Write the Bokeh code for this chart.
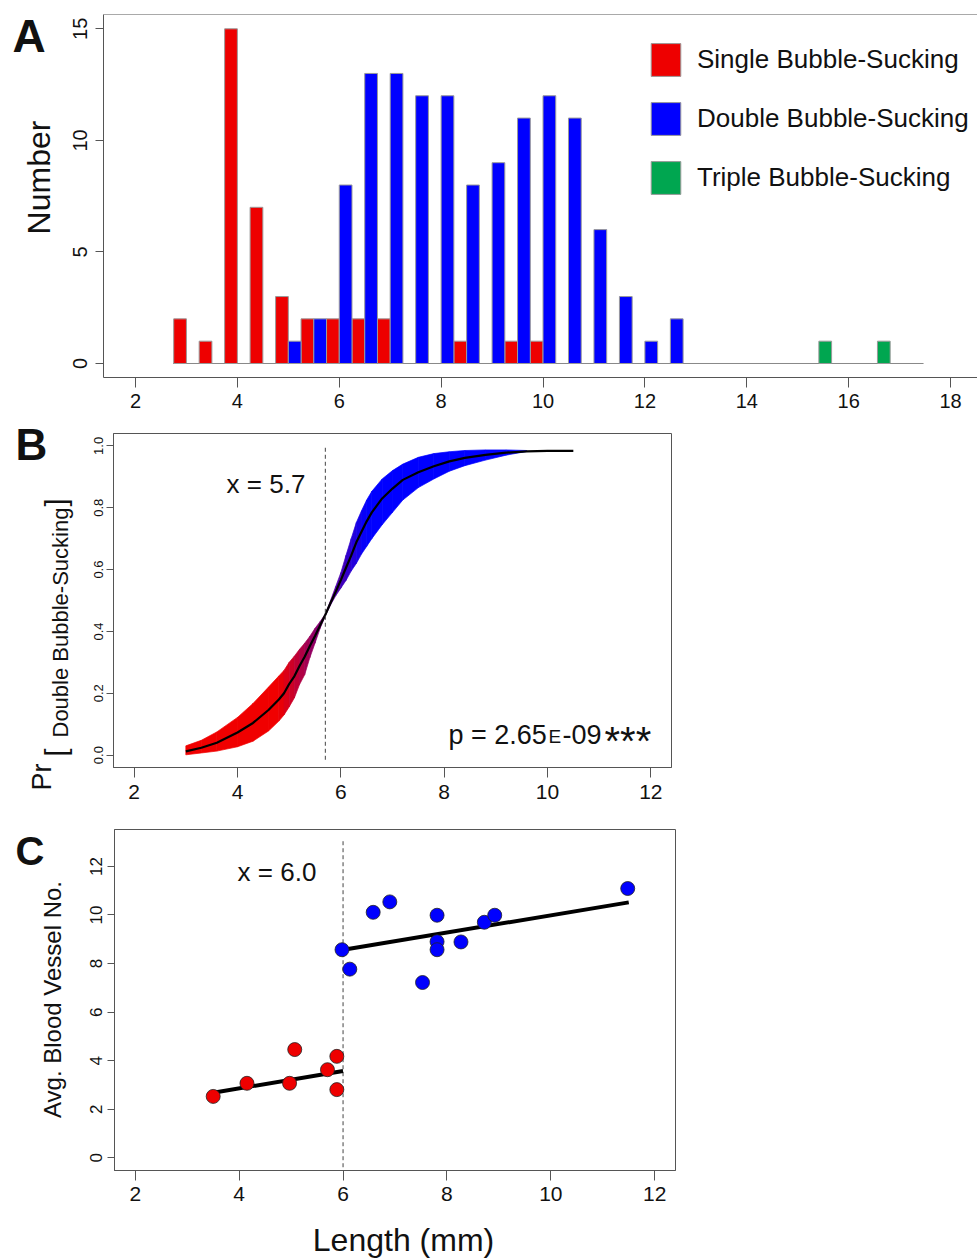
import numpy as np
from bokeh.plotting import figure
from bokeh.models import Label, Legend, LegendItem, FixedTicker, PrintfTickFormatter, Span, Range1d
from bokeh.embed import file_html
from bokeh.resources import INLINE

# ---------------- data ----------------
# Panel A: histogram of length classes (0.5 mm bins), counts per behaviour
bin_left = [2.75, 3.25, 3.75, 4.25, 4.75, 5.25, 5.75, 6.25, 6.75, 7.25,
            7.75, 8.25, 8.75, 9.25, 9.75, 10.25, 10.75, 11.25, 11.75, 12.25]
single_counts = [2, 1, 15, 7, 3, 2, 2, 2, 2, 0, 0, 1, 0, 1, 1, 0, 0, 0, 0, 0]
double_counts = [0, 0, 0, 0, 1, 2, 8, 13, 13, 12, 12, 8, 9, 11, 12, 11, 6, 3, 1, 2]
triple_centers = [15.54, 16.69]
triple_counts = [1, 1]
baseline_span = [2.74, 17.47]
legend_labels = ["Single Bubble-Sucking", "Double Bubble-Sucking", "Triple Bubble-Sucking"]
xticks_A = [2, 4, 6, 8, 10, 12, 14, 16, 18]
yticks_A = [0, 5, 10, 15]

# Panel B: logistic fit with confidence band
prob_x = [3.0, 3.3, 3.6, 4.0, 4.3, 4.6, 4.8, 4.9, 5.0, 5.1, 5.2, 5.3, 5.4, 5.5, 5.6,
          5.7, 5.8, 5.9, 6.0, 6.1, 6.2, 6.3, 6.4, 6.5, 6.6, 6.8, 7.0, 7.2, 7.5, 7.8,
          8.1, 8.4, 8.8, 9.2, 9.6, 10.0, 10.5]
prob_fit = [0.012, 0.024, 0.040, 0.073, 0.104, 0.146, 0.180, 0.200, 0.230, 0.255,
            0.288, 0.318, 0.353, 0.385, 0.420, 0.454, 0.492, 0.528, 0.566, 0.606,
            0.645, 0.688, 0.722, 0.756, 0.785, 0.830, 0.862, 0.890, 0.915, 0.934,
            0.950, 0.961, 0.971, 0.978, 0.982, 0.984, 0.984]
prob_upper = [0.030, 0.048, 0.075, 0.122, 0.167, 0.220, 0.256, 0.274, 0.300, 0.320,
              0.342, 0.362, 0.384, 0.410, 0.432, 0.456, 0.500, 0.545, 0.590, 0.646,
              0.700, 0.752, 0.790, 0.825, 0.853, 0.893, 0.920, 0.941, 0.963, 0.975,
              0.981, 0.985, 0.987, 0.987, 0.985]
prob_lower = [0.001, 0.007, 0.013, 0.027, 0.045, 0.078, 0.110, 0.130, 0.156, 0.185,
              0.228, 0.260, 0.315, 0.362, 0.410, 0.450, 0.485, 0.515, 0.540, 0.565,
              0.595, 0.620, 0.650, 0.675, 0.700, 0.745, 0.785, 0.825, 0.865, 0.893,
              0.918, 0.936, 0.954, 0.970, 0.982]
threshold_B = 5.7
xticks_BC = [2, 4, 6, 8, 10, 12]
yticks_B = [0.0, 0.2, 0.4, 0.6, 0.8, 1.0]

# Panel C: blood vessel number vs length
single_len = [3.50, 4.15, 4.97, 5.07, 5.70, 5.88, 5.88]
single_vessels = [2.53, 3.07, 3.07, 4.46, 3.63, 4.18, 2.81]
double_len = [5.98, 6.13, 6.58, 6.90, 7.53, 7.81, 7.81, 7.81, 8.27, 8.72, 8.92, 11.48]
double_vessels = [8.57, 7.77, 10.11, 10.54, 7.22, 9.99, 8.90, 8.57, 8.89, 9.70, 9.99, 11.09]
single_fit_x = [3.5, 6.0]
single_fit_y = [2.68, 3.58]
double_fit_x = [5.98, 11.5]
double_fit_y = [8.56, 10.52]
threshold_C = 6.0
yticks_C = [0, 2, 4, 6, 8, 10, 12]

# ---------------- style ----------------
RED = "#EE0000"
BLUE = "#0000FF"
GREEN = "#00A650"
FONT = "Liberation Sans"
AXC = "#555555"
TXT = "#111111"
W = 977


def base_fig(height, xr, yr, ml, mr, mt, mb):
    p = figure(width=W, height=height, x_range=xr, y_range=yr,
               output_backend="svg", toolbar_location=None,
               min_border_left=ml, min_border_right=mr,
               min_border_top=mt, min_border_bottom=mb)
    p.xgrid.visible = False
    p.ygrid.visible = False
    p.background_fill_color = "white"
    p.border_fill_color = "white"
    p.outline_line_color = AXC
    p.outline_line_width = 1
    for ax in p.axis:
        ax.major_tick_in = 0
        ax.minor_tick_line_color = None
        ax.axis_line_color = AXC
        ax.major_tick_line_color = AXC
        ax.major_label_text_color = TXT
        ax.major_label_text_font = FONT
    return p


# ---------------- Panel A ----------------
xrA = (1.372, 18.529)
yrA = (-0.628, 15.642)
pA = base_fig(422, xrA, yrA, 103, 0, 14, 45)
pA.outline_line_color = None
pA.add_layout(Span(location=yrA[1], dimension="width", line_color=AXC, line_width=1))

bw = 0.25
left = np.array(bin_left)
sc = np.array(single_counts)
dc = np.array(double_counts)
ms = sc > 0
md = dc > 0
pA.line(baseline_span, [0, 0], line_color="#888888", line_width=1)
r_single = pA.quad(left=left[ms], right=left[ms] + bw, bottom=0, top=sc[ms],
                   fill_color=RED, line_color="#9a9a9a", line_width=1)
r_double = pA.quad(left=left[md] + bw, right=left[md] + 2 * bw, bottom=0, top=dc[md],
                   fill_color=BLUE, line_color="#9a9a9a", line_width=1)
tcx = np.array(triple_centers)
r_triple = pA.quad(left=tcx - bw / 2, right=tcx + bw / 2, bottom=0, top=triple_counts,
                   fill_color=GREEN, line_color="#9a9a9a", line_width=1)

legend = Legend(items=[LegendItem(label=legend_labels[0], renderers=[r_single]),
                       LegendItem(label=legend_labels[1], renderers=[r_double]),
                       LegendItem(label=legend_labels[2], renderers=[r_triple])],
                location=(544, 179), glyph_width=37, glyph_height=41, spacing=18,
                padding=0, margin=0, label_standoff=13,
                label_text_font=FONT, label_text_font_size="26px",
                label_text_color=TXT, border_line_color=None,
                background_fill_alpha=0)
pA.add_layout(legend)

pA.xaxis.ticker = FixedTicker(ticks=xticks_A)
pA.yaxis.ticker = FixedTicker(ticks=yticks_A)
pA.yaxis.major_label_orientation = "vertical"
pA.xaxis.major_tick_out = 10
pA.yaxis.major_tick_out = 8
pA.xaxis.major_label_standoff = 6
pA.yaxis.major_label_standoff = 8
for ax in pA.axis:
    ax.major_label_text_font_size = "20px"

# ---------------- Panel B ----------------
xrB = (1.6, 12.4)
yrB = (-0.04, 1.04)
pB = base_fig(393, xrB, yrB, 113, 306, 11, 48)

xs, ys, cols = [], [], []
for i in range(len(prob_lower) - 1):
    xs.append([prob_x[i], prob_x[i + 1], prob_x[i + 1], prob_x[i]])
    ys.append([prob_lower[i], prob_lower[i + 1], prob_upper[i + 1], prob_upper[i]])
    xm = 0.5 * (prob_x[i] + prob_x[i + 1])
    t = min(max((xm - 4.8) / 1.7, 0.0), 1.0)
    r = int(round(240 * (1 - t)))
    b = int(round(255 * t))
    cols.append("#%02x%02x%02x" % (r, 0, b))
pB.patches(xs=xs, ys=ys, fill_color=cols, line_color=cols, line_width=0.7)
pB.line(prob_x, prob_fit, line_color="black", line_width=2.2)
pB.segment(x0=[threshold_B], y0=[-0.015], x1=[threshold_B], y1=[1.0],
           line_color="#444444", line_width=1, line_dash="4 3")

pB.xaxis.ticker = FixedTicker(ticks=xticks_BC)
pB.yaxis.ticker = FixedTicker(ticks=yticks_B)
pB.yaxis.formatter = PrintfTickFormatter(format="%.1f")
pB.yaxis.major_label_orientation = "vertical"
pB.xaxis.major_tick_out = 10
pB.yaxis.major_tick_out = 7
pB.xaxis.major_label_standoff = 7
pB.yaxis.major_label_standoff = 3
pB.xaxis.major_label_text_font_size = "21px"
pB.yaxis.major_label_text_font_size = "13px"

# ---------------- Panel C ----------------
xrC = (1.6, 12.4)
yrC = (-0.52, 13.52)
pC = base_fig(444, xrC, yrC, 114, 302, 14, 89)

pC.segment(x0=[threshold_C], y0=[-0.385], x1=[threshold_C], y1=[13.07],
           line_color="#444444", line_width=1, line_dash="4 3")
pC.line(single_fit_x, single_fit_y, line_color="black", line_width=4)
pC.line(double_fit_x, double_fit_y, line_color="black", line_width=4)
pC.scatter(single_len, single_vessels, size=14, fill_color=RED,
           line_color="#222222", line_width=0.8)
pC.scatter(double_len, double_vessels, size=14, fill_color=BLUE,
           line_color="#222222", line_width=0.8)

pC.xaxis.ticker = FixedTicker(ticks=xticks_BC)
pC.yaxis.ticker = FixedTicker(ticks=yticks_C)
pC.yaxis.major_label_orientation = "vertical"
pC.xaxis.major_tick_out = 10
pC.yaxis.major_tick_out = 7
pC.xaxis.major_label_standoff = 6
pC.yaxis.major_label_standoff = 5
pC.xaxis.major_label_text_font_size = "21px"
pC.yaxis.major_label_text_font_size = "17px"

# ---------------- text overlay (page pixel coordinates) ----------------
ov = figure(width=W, height=1259, x_range=Range1d(0, 977), y_range=Range1d(1259, 0),
            output_backend="svg", toolbar_location=None,
            x_axis_location=None, y_axis_location=None, min_border=0,
            styles={"position": "absolute", "top": "0px", "left": "0px"})
ov.grid.visible = False
ov.outline_line_color = None
ov.background_fill_alpha = 0
ov.border_fill_alpha = 0


def lab(px, py, text, size, bold=False, angle=0.0, align="left"):
    ov.add_layout(Label(x=px, y=py, text=text, text_font=FONT,
                        text_font_size=f"{size}px",
                        text_font_style="bold" if bold else "normal",
                        angle=angle, text_align=align, text_baseline="middle",
                        text_color=TXT))


V = np.pi / 2
lab(12, 35, "A", 46, bold=True)
lab(38, 177, "Number", 32, angle=V, align="center")

lab(15, 444, "B", 44, bold=True)
lab(265.5, 483, "x = 5.7", 26, align="center")
lab(448, 734, "p = 2.65", 27)
lab(548, 735.5, "E", 19)
lab(562, 734, "-09", 27)
lab(604, 740, "***", 40)
lab(41, 790, "Pr", 27, angle=V)
lab(55.3, 756, "[", 29, angle=V)
lab(59.5, 737, "Double Bubble-Sucking", 22, angle=V)
lab(55.3, 506, "]", 29, angle=V)

lab(15, 850, "C", 40, bold=True)
lab(276.5, 871.7, "x = 6.0", 26, align="center")
lab(403, 1239.5, "Length (mm)", 32, align="center")
lab(52, 999, "Avg. Blood Vessel No.", 24, angle=V, align="center")

open("out.html", "w").write(file_html([pA, pB, pC, ov], INLINE, title="Bubble-sucking"))
